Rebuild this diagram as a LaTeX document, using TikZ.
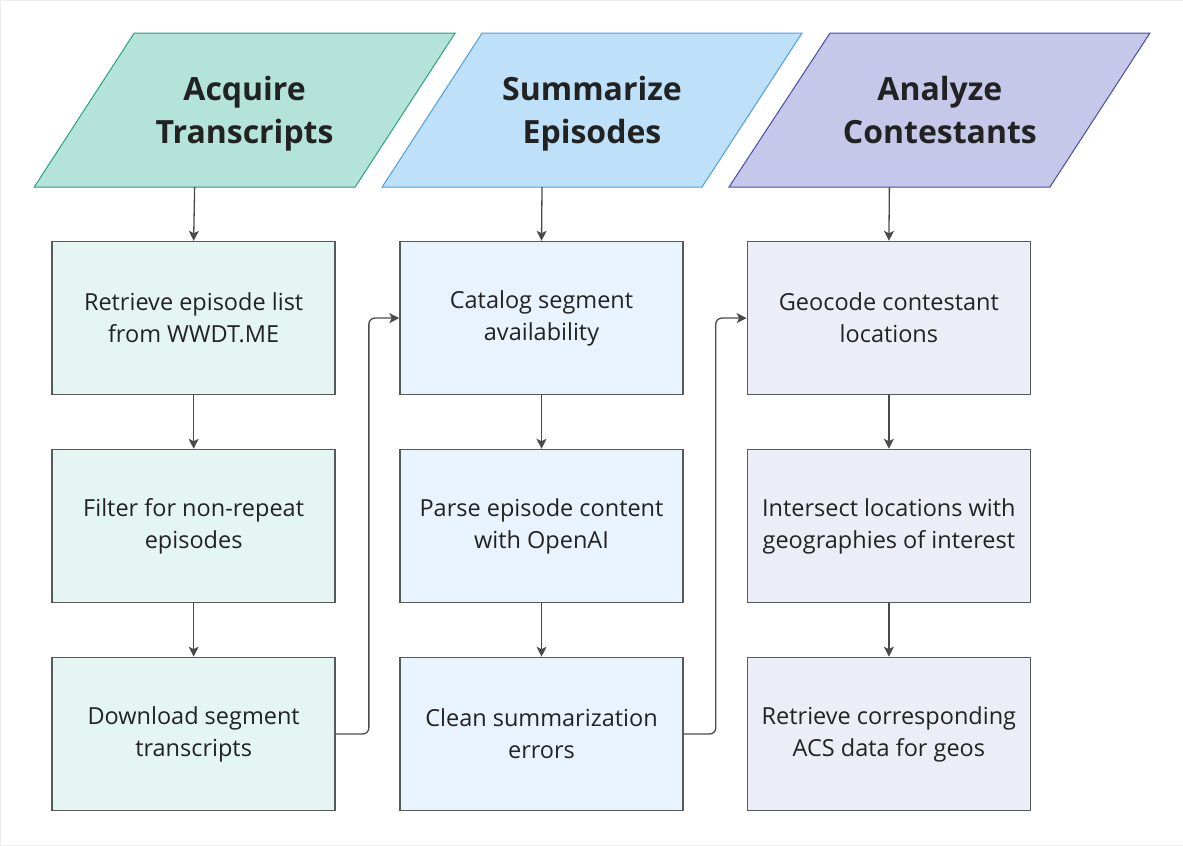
\documentclass[tikz,border=0pt]{standalone}
\usepackage{fontspec}
\setmainfont{Open Sans}
\usetikzlibrary{arrows.meta,calc}
\definecolor{gfill}{HTML}{B4E4D9}
\definecolor{gline}{HTML}{2AA07E}
\definecolor{gbox}{HTML}{E5F5F1}
\definecolor{bfill}{HTML}{BEE0F8}
\definecolor{bline}{HTML}{4B9FE1}
\definecolor{bbox}{HTML}{E8F3FD}
\definecolor{pfill}{HTML}{C6C8EA}
\definecolor{pline}{HTML}{4A4AA6}
\definecolor{pbox}{HTML}{EDEDF7}
\definecolor{boxline}{HTML}{555A5A}
\definecolor{arr}{HTML}{4A4A4A}
\definecolor{txt}{HTML}{222222}
\tikzset{
  stepbox/.style={draw=boxline, line width=1.6pt, minimum width=283pt, minimum height=153pt,
    align=center, text=txt, font=\fontsize{23.5}{32}\selectfont, inner sep=0pt},
  headtext/.style={inner sep=0pt, align=center,
    text=txt, font=\fontsize{32}{43}\selectfont\bfseries},
  conn/.style={draw=arr, line width=1.3pt, -{Stealth[length=10pt,width=10pt,inset=2.5pt]}},
}
\begin{document}
\begin{tikzpicture}[x=1pt,y=-1pt]
\draw[draw=black!7, fill=white] (0,0) rectangle (1183,845);
\useasboundingbox (0,0) rectangle (1183,845);
% headers
\fill[gfill] (134,33) -- (455,33) -- (355,187) -- (34,187) -- cycle;
\draw[gline, line width=1pt] (134,33) -- (455,33) -- (355,187) -- (34,187) -- cycle;
\fill[bfill] (482,33) -- (802,33) -- (702,187) -- (382,187) -- cycle;
\draw[bline, line width=1pt] (482,33) -- (802,33) -- (702,187) -- (382,187) -- cycle;
\fill[pfill] (830,33) -- (1150,33) -- (1050,187) -- (729,187) -- cycle;
\draw[pline, line width=1pt] (830,33) -- (1150,33) -- (1050,187) -- (729,187) -- cycle;
\node[headtext] (h1) at (244.5,113) {\strut Acquire\\\strut Transcripts};
\node[headtext] (h2) at (592,113) {\strut Summarize\\\strut Episodes};
\node[headtext] (h3) at (940,113) {\strut Analyze\\\strut Contestants};
\coordinate (h1b) at (194.5,187);
\coordinate (h2b) at (542,187);
\coordinate (h3b) at (889.5,187);
% column 1
\node[stepbox, fill=gbox] (a1) at (193.5,318) {Retrieve episode list\\from WWDT.ME};
\node[stepbox, fill=gbox] (a2) at (193.5,526) {Filter for non-repeat\\episodes};
\node[stepbox, fill=gbox] (a3) at (193.5,734) {Download segment\\transcripts};
% column 2
\node[stepbox, fill=bbox] (b1) at (541.5,318) {Catalog segment\\availability};
\node[stepbox, fill=bbox] (b2) at (541.5,526) {Parse episode content\\with OpenAI};
\node[stepbox, fill=bbox] (b3) at (541.5,734) {Clean summarization\\errors};
% column 3
\node[stepbox, fill=pbox] (c1) at (889,318) {Geocode contestant\\locations};
\node[stepbox, fill=pbox] (c2) at (889,526) {Intersect locations with\\geographies of interest};
\node[stepbox, fill=pbox] (c3) at (889,734) {Retrieve corresponding\\ACS data for geos};
% connectors
\draw[conn] (h1b) -- (a1.north);
\draw[conn] (a1) -- (a2);
\draw[conn] (a2) -- (a3);
\draw[conn] (h2b) -- (b1.north);
\draw[conn] (b1) -- (b2);
\draw[conn] (b2) -- (b3);
\draw[conn] (h3b) -- (c1.north);
\draw[conn] (c1) -- (c2);
\draw[conn] (c2) -- (c3);
\draw[conn, rounded corners=6pt] (a3.east) -- ++(33,0) |- (b1.west);
\draw[conn, rounded corners=6pt] (b3.east) -- ++(32,0) |- (c1.west);
\end{tikzpicture}
\end{document}
